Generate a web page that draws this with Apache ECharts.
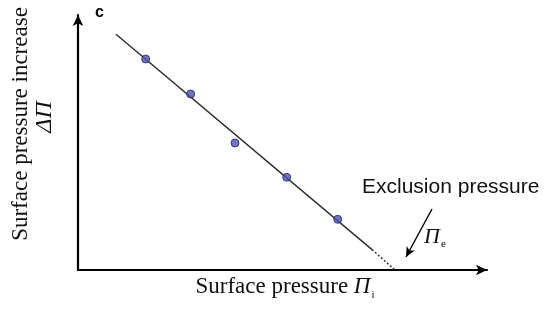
<!DOCTYPE html>
<html><head><meta charset="utf-8">
<script src="https://cdn.jsdelivr.net/npm/echarts@6/dist/echarts.min.js"></script>
<style>html,body{margin:0;padding:0;background:#fff}#c{width:550px;height:313px}</style>
</head><body><div id="c"></div>
<script>
// Measured points (arbitrary units)
const pointsX = [6.77, 11.27, 15.7, 20.87, 25.97];
const pointsY = [21.1, 17.6, 12.7, 9.27, 5.07];
// Fitted line: solid part and dotted extrapolation to exclusion pressure
const fitSolidX = [3.8, 29.4];
const fitSolidY = [23.57, 2.04];
const fitDotX = [29.4, 31.7];
const fitDotY = [2.04, 0];
// Arrow annotation pointing at the exclusion pressure
const arrowFrom = [35.4, 6.1];
const arrowTo = [32.8, 1.3];

const zip = (a, b) => a.map((v, i) => [v, b[i]]);
const chart = echarts.init(document.getElementById('c'));
const serif = '"Liberation Serif","Times New Roman",serif';
const sans = '"Liberation Sans",Arial,sans-serif';
chart.setOption({
  animation: false,
  grid: {left: 78, right: 63, top: 15, bottom: 43},
  xAxis: {
    type: 'value', min: 0, max: 40.9,
    axisLine: {lineStyle: {color: '#000', width: 2.2}, symbol: ['none', 'arrow'], symbolSize: [8, 11]},
    axisTick: {show: false}, axisLabel: {show: false}, splitLine: {show: false}
  },
  yAxis: {
    type: 'value', min: 0, max: 25.5,
    axisLine: {onZero: false, lineStyle: {color: '#000', width: 2.2}, symbol: ['none', 'arrow'], symbolSize: [8, 11]},
    axisTick: {show: false}, axisLabel: {show: false}, splitLine: {show: false}
  },
  series: [
    {type: 'line', data: zip(fitSolidX, fitSolidY), symbol: 'none',
     lineStyle: {color: '#2a2a2a', width: 1.4}, z: 2},
    {type: 'line', data: zip(fitDotX, fitDotY), symbol: 'none',
     lineStyle: {color: '#2a2a2a', width: 1.4, type: [2, 2]}, z: 2},
    {type: 'scatter', data: zip(pointsX, pointsY), symbol: 'circle', symbolSize: 8,
     itemStyle: {color: '#4b53b5', borderColor: '#23264f', borderWidth: 1}, z: 3,
     markLine: {
       silent: true, symbol: ['none', 'arrow'], symbolSize: [7, 10],
       lineStyle: {color: '#000', width: 1.4, type: 'solid'},
       label: {show: false},
       data: [[{coord: arrowFrom}, {coord: arrowTo}]]
     }}
  ],
  graphic: [
    {type: 'text', left: 95, top: 5, style: {text: 'c', font: 'bold 16px ' + sans, fill: '#000'}},
    {type: 'text', x: 362, y: 187, style: {text: 'Exclusion pressure', font: '21px ' + sans, fill: '#111', textVerticalAlign: 'middle'}},
    {type: 'text', x: 424, y: 237, style: {
      rich: {p: {font: 'italic 22px ' + serif, fill: '#111'}, s: {font: '11px ' + serif, fill: '#111', padding: [14, 0, 0, 1]}},
      text: '{p|Π}{s|e}', textVerticalAlign: 'middle'}},
    {type: 'text', x: 285, y: 287, style: {
      rich: {t: {font: '23px ' + serif, fill: '#111'}, p: {font: 'italic 23px ' + serif, fill: '#111'}, s: {font: '11px ' + serif, fill: '#111', padding: [16, 0, 0, 1]}},
      text: '{t|Surface pressure }{p|Π}{s|i}', textAlign: 'center', textVerticalAlign: 'middle'}},
    {type: 'text', x: 21, y: 124, rotation: Math.PI / 2, style: {
      text: 'Surface pressure increase', font: '23px ' + serif, fill: '#111', textAlign: 'center', textVerticalAlign: 'middle'}},
    {type: 'text', x: 45, y: 117, rotation: Math.PI / 2, style: {
      text: 'ΔΠ', font: 'italic 24px ' + serif, fill: '#111', textAlign: 'center', textVerticalAlign: 'middle'}}
  ]
});
</script></body></html>
